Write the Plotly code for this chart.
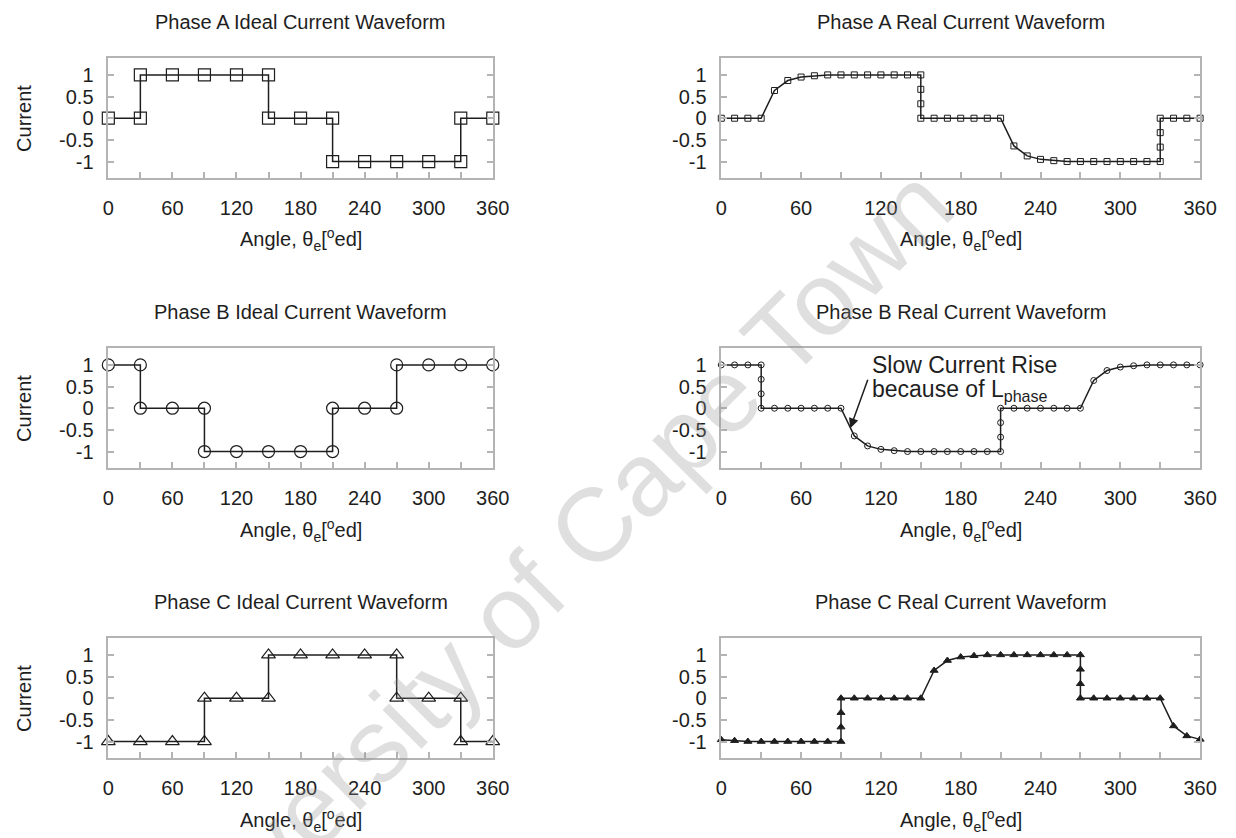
import plotly.graph_objects as go
from plotly.subplots import make_subplots

# ---------------- data ----------------
# Ideal waveforms (30 deg steps, vertical steps repeat the angle)
angle_ideal_a = [0, 30, 30, 60, 90, 120, 150, 150, 180, 210, 210, 240, 270, 300, 330, 330, 360]
current_ideal_a = [0, 0, 1, 1, 1, 1, 1, 0, 0, 0, -1, -1, -1, -1, -1, 0, 0]

angle_ideal_b = [0, 30, 30, 60, 90, 90, 120, 150, 180, 210, 210, 240, 270, 270, 300, 330, 360]
current_ideal_b = [1, 1, 0, 0, 0, -1, -1, -1, -1, -1, 0, 0, 0, 1, 1, 1, 1]

angle_ideal_c = [0, 30, 60, 90, 90, 120, 150, 150, 180, 210, 240, 270, 270, 300, 330, 330, 360]
current_ideal_c = [-1, -1, -1, -1, 0, 0, 0, 1, 1, 1, 1, 1, 0, 0, 0, -1, -1]

# Real waveforms (10 deg steps, extra points on the vertical drops)
angle_real_a = [0, 10, 20, 30, 40, 50, 60, 70, 80, 90, 100, 110, 120, 130, 140, 150, 150, 150, 150,
                160, 170, 180, 190, 200, 210, 220, 230, 240, 250, 260, 270, 280, 290, 300, 310, 320, 330,
                330, 330, 330, 340, 350, 360]
current_real_a = [0, 0, 0, 0, 0.64, 0.87, 0.95, 0.98, 1, 1, 1, 1, 1, 1, 1, 1, 0.667, 0.333, 0,
                  0, 0, 0, 0, 0, 0, -0.64, -0.87, -0.95, -0.98, -1, -1, -1, -1, -1, -1, -1, -1,
                  -0.667, -0.333, 0, 0, 0, 0]

angle_real_b = [0, 10, 20, 30, 30, 30, 30, 40, 50, 60, 70, 80, 90, 100, 110, 120, 130, 140, 150,
                160, 170, 180, 190, 200, 210, 210, 210, 210, 220, 230, 240, 250, 260, 270, 280, 290,
                300, 310, 320, 330, 340, 350, 360]
current_real_b = [1, 1, 1, 1, 0.667, 0.333, 0, 0, 0, 0, 0, 0, 0, -0.64, -0.87, -0.95, -0.98, -1, -1,
                  -1, -1, -1, -1, -1, -1, -0.667, -0.333, 0, 0, 0, 0, 0, 0, 0, 0.64, 0.87,
                  0.95, 0.98, 1, 1, 1, 1, 1]

angle_real_c = [0, 10, 20, 30, 40, 50, 60, 70, 80, 90, 90, 90, 90, 100, 110, 120, 130, 140, 150,
                160, 170, 180, 190, 200, 210, 220, 230, 240, 250, 260, 270, 270, 270, 270, 280, 290,
                300, 310, 320, 330, 340, 350, 360]
current_real_c = [-0.96, -0.98, -1, -1, -1, -1, -1, -1, -1, -1, -0.667, -0.333, 0, 0, 0, 0, 0, 0, 0,
                  0.64, 0.87, 0.95, 0.98, 1, 1, 1, 1, 1, 1, 1, 1, 0.667, 0.333, 0, 0, 0,
                  0, 0, 0, 0, -0.64, -0.87, -0.95]

panel_titles = ["Phase A Ideal Current Waveform", "Phase A Real Current Waveform",
                "Phase B Ideal Current Waveform", "Phase B Real Current Waveform",
                "Phase C Ideal Current Waveform", "Phase C Real Current Waveform"]

x_tickvals = [0, 30, 60, 90, 120, 150, 180, 210, 240, 270, 300, 330, 360]
x_ticktext = ["0", "", "60", "", "120", "", "180", "", "240", "", "300", "", "360"]
y_tickvals = [-1, -0.5, 0, 0.5, 1]
y_ticktext = ["-1", "-0.5", "0", "0.5", "1"]

x_title = "Angle, θ<sub>e</sub>[<sup>o</sup>ed]"
y_title = "Current"
note_line1 = "Slow Current Rise"
note_line2 = "because of L<sub>phase</sub>"
watermark = "University of Cape Town"

# ---------------- layout geometry (pixels) ----------------
W, H = 1236, 838
WX = 1221  # horizontal reference used for paper fractions
col_px = [(103, 490), (720, 1202)]
row_px = [(58, 178), (348, 468), (638, 758)]

FONT = "Liberation Sans, Arial, Helvetica, sans-serif"
INK = "#1e1e1e"
FRAME = "#b4b4b4"

fig = make_subplots(rows=3, cols=2)

series = [
    (angle_ideal_a, current_ideal_a, "square-open", 12, 1, 1),
    (angle_real_a, current_real_a, "square-open", 6, 1, 2),
    (angle_ideal_b, current_ideal_b, "circle-open", 12, 2, 1),
    (angle_real_b, current_real_b, "circle-open", 6, 2, 2),
    (angle_ideal_c, current_ideal_c, "triangle-up-open", 12, 3, 1),
    (angle_real_c, current_real_c, "triangle-up", 7, 3, 2),
]
for xs, ys, sym, size, r, c in series:
    fig.add_trace(go.Scatter(
        x=xs, y=ys, mode="lines+markers", cliponaxis=False, showlegend=False,
        line=dict(color=INK, width=1.5),
        marker=dict(symbol=sym, size=size, color=INK,
                    line=dict(color=INK, width=1.2 if size > 8 else 1.0)),
    ), row=r, col=c)

annotations = []
for i in range(6):
    r, c = divmod(i, 2)
    x0, x1 = col_px[c]
    y0, y1 = row_px[r]
    ax_id = "" if i == 0 else str(i + 1)
    fig.layout["xaxis" + ax_id].update(
        domain=[x0 / WX, min(x1 / WX, 1.0)], range=[0, 360],
        tickvals=x_tickvals, ticktext=x_ticktext,
        ticks="inside", ticklen=6, tickwidth=1.5, tickcolor=FRAME,
        showline=True, linecolor=FRAME, linewidth=1.5, mirror=True,
        showgrid=False, zeroline=False, ticklabelstandoff=11,
        tickfont=dict(size=20, color=INK, family=FONT))
    fig.layout["yaxis" + ax_id].update(
        domain=[1 - y1 / H, 1 - y0 / H], range=[-1.38, 1.39],
        tickvals=y_tickvals, ticktext=y_ticktext,
        ticks="inside", ticklen=6, tickwidth=1.5, tickcolor=FRAME,
        showline=True, linecolor=FRAME, linewidth=1.5, mirror="ticks",
        showgrid=False, zeroline=False, ticklabelstandoff=9,
        tickfont=dict(size=20, color=INK, family=FONT))
    cx = (x0 + x1) / 2 / WX
    annotations.append(dict(text=panel_titles[i], x=cx, y=1 - (y0 - 36) / H,
                            xref="paper", yref="paper", showarrow=False,
                            xanchor="center", yanchor="middle",
                            font=dict(size=20, color=INK, family=FONT)))
    annotations.append(dict(text=x_title, x=cx, y=1 - (y1 + 62) / H,
                            xref="paper", yref="paper", showarrow=False,
                            xanchor="center", yanchor="middle",
                            font=dict(size=20, color=INK, family=FONT)))
    if c == 0:
        annotations.append(dict(text=y_title, x=18 / WX, y=1 - (y0 + y1) / 2 / H,
                                xref="paper", yref="paper", showarrow=False,
                                textangle=-90, xanchor="center", yanchor="middle",
                                font=dict(size=20, color=INK, family=FONT)))

# Phase B real annotation
annotations.append(dict(text=note_line1, x=870 / WX, y=1 - 365 / H, xref="paper", yref="paper",
                        showarrow=False, xanchor="left", yanchor="middle",
                        font=dict(size=23, color=INK, family=FONT)))
annotations.append(dict(text=note_line2, x=870 / WX, y=1 - 390 / H, xref="paper", yref="paper",
                        showarrow=False, xanchor="left", yanchor="middle",
                        font=dict(size=23, color=INK, family=FONT)))
annotations.append(dict(text="", x=97, y=-0.46, xref="x4", yref="y4",
                        showarrow=True, arrowhead=2, arrowsize=1.3, arrowwidth=1.5,
                        arrowcolor=INK, ax=18, ay=-50, axref="pixel", ayref="pixel"))

# watermark
annotations.append(dict(text=watermark, x=535 / WX, y=1 - 582 / H, xref="paper", yref="paper",
                        showarrow=False, textangle=-45, xanchor="center", yanchor="middle",
                        font=dict(size=104, color="rgba(150,150,150,0.30)", family=FONT)))

fig.update_layout(
    width=W, height=H, autosize=False, margin=dict(l=0, r=0, t=0, b=0),
    paper_bgcolor="white", plot_bgcolor="white",
    font=dict(family=FONT, color=INK),
    annotations=annotations,
)

fig.write_html("out.html", config={"displayModeBar": False, "responsive": False},
               post_script="document.body.style.margin='0px';document.body.style.overflow='hidden';")
